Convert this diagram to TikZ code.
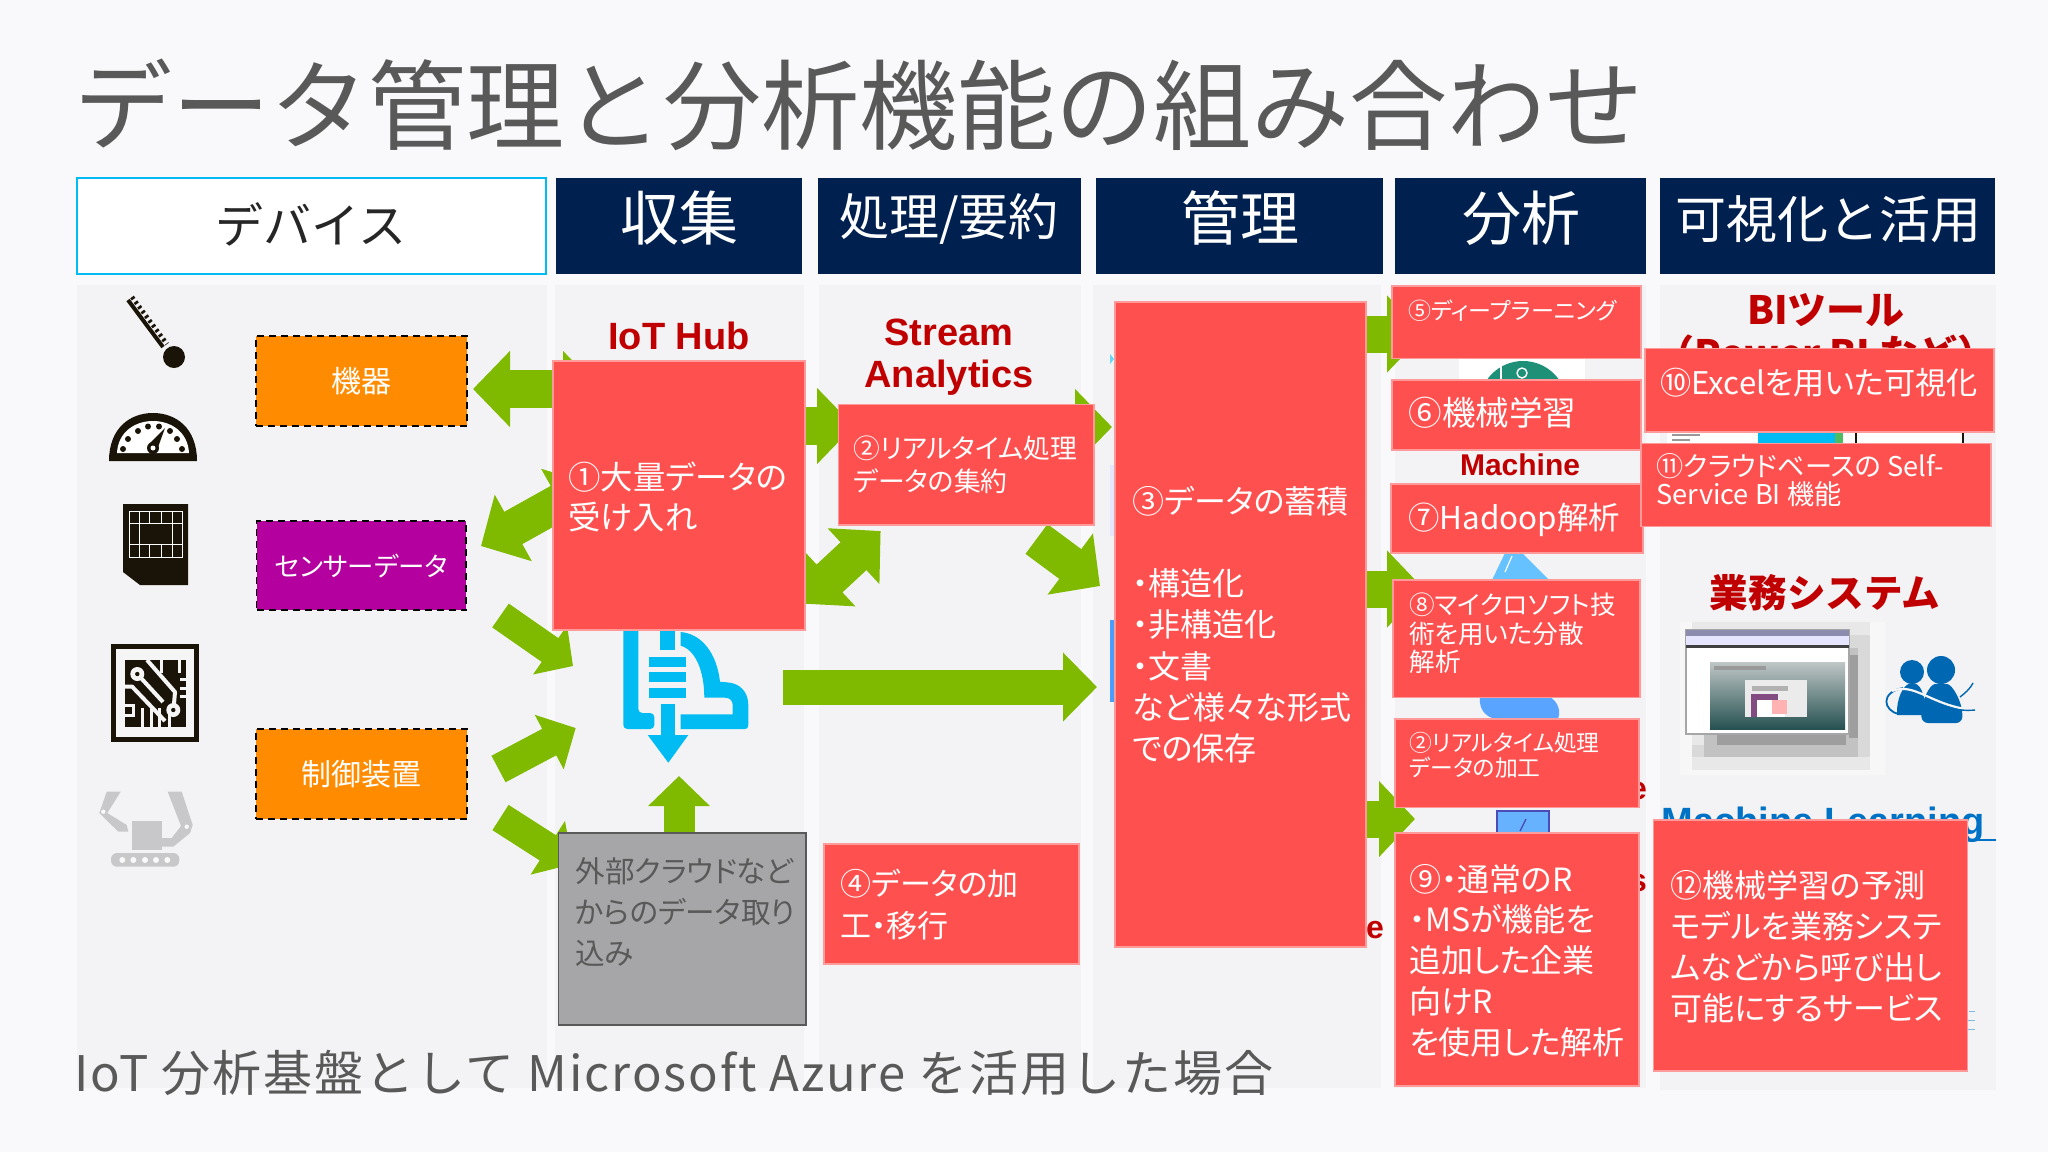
\documentclass[tikz,border=0pt]{standalone}
\usepackage{fontspec}
\usetikzlibrary{arrows.meta}
\setmainfont{Noto Sans CJK JP}
\newfontfamily\pf[RawFeature=+palt]{Noto Sans CJK JP}
\newfontfamily\arialf{Liberation Sans}
\definecolor{pagebg}{HTML}{F9F9FB}
\definecolor{panelc}{HTML}{F3F3F5}
\definecolor{navy}{HTML}{002050}
\definecolor{redb}{HTML}{FF5050}
\definecolor{redl}{HTML}{FF9A9A}
\definecolor{darkred}{HTML}{C00000}
\definecolor{arrowg}{HTML}{7FBA00}
\definecolor{orangeb}{HTML}{FF8C00}
\definecolor{purpb}{HTML}{B4009E}
\definecolor{grayb}{HTML}{A6A6A8}
\definecolor{txtg}{HTML}{595959}
\definecolor{cyanb}{HTML}{00BCF2}
\definecolor{icon}{HTML}{1A1408}
\definecolor{robot}{HTML}{C8C8CA}
\definecolor{bluet}{HTML}{0072C6}
\definecolor{tealc}{HTML}{1F9078}
\newcommand\fs[2]{\fontsize{#1pt}{#2pt}\selectfont}
\newcommand\bx[7]{%
  \pgfmathsetmacro\bw{(#4-#2)*0.5}\pgfmathsetmacro\bh{(#5-#3)*0.5}%
  \node[#6,minimum width=\bw pt,minimum height=\bh pt,inner sep=0pt,outer sep=0pt] (#1) at ({(#2+#4)/2},{(#3+#5)/2}) {#7};}
\tikzset{
  panel/.style={fill=panelc,draw=none},
  hdr/.style={fill=navy,draw=none},
  hdrw/.style={fill=white,draw=cyanb,line width=0.8pt},
  htxt/.style={text=white,inner sep=0pt},
  redbox/.style={fill=redb,draw=redl,line width=0.7pt},
  devbox/.style={fill=#1,draw=black,line width=0.9pt,dash pattern=on 3.5pt off 2.5pt,text=white},
  graybox/.style={fill=grayb,draw=txtg,line width=0.7pt},
  wtxt/.style={text=white,anchor=west,align=left,inner sep=0pt},
  gtxt/.style={text=txtg,anchor=west,align=left,inner sep=0pt},
  rtxt/.style={text=darkred,align=center,inner sep=0pt},
  gone/.style n args={3}{draw=arrowg,line width=#1pt,-{Triangle[length=#3pt,width=#2pt]}},
  gtwo/.style n args={3}{draw=arrowg,line width=#1pt,{Triangle[length=#3pt,width=#2pt]}-{Triangle[length=#3pt,width=#2pt]}},
}
\begin{document}
\begin{tikzpicture}[x=0.5pt,y=-0.5pt]
\useasboundingbox (0,0) rectangle (2048,1152);
\fill[pagebg] (0,0) rectangle (2048,1152);
% panels
\fill[panel] (77,285) rectangle (547,1088);
\fill[panel] (555,285) rectangle (804,1088);
\fill[panel] (819,285) rectangle (1081,1088);
\fill[panel] (1093,285) rectangle (1381,1088);
\fill[panel] (1395,285) rectangle (1646,1088);
\fill[panel] (1660,285) rectangle (1996,1090);
% title, headers
\node[text=txtg,anchor=west,inner sep=0pt,font=\fs{49.05}{50}] (title) at (74,105) {データ管理と分析機能の組み合わせ};
\bx{h1}{77}{178}{546}{274}{hdrw}{}
\bx{h2}{556}{178}{802}{274}{hdr}{}
\bx{h3}{818}{178}{1081}{274}{hdr}{}
\bx{h4}{1096}{178}{1383}{274}{hdr}{}
\bx{h5}{1395}{178}{1646}{274}{hdr}{}
\bx{h6}{1660}{178}{1995}{274}{hdr}{}
\node[inner sep=0pt,text=black!85,font=\fs{24}{26}] (ht1) at (311,224) {デバイス};
\node[htxt,font=\fs{29.5}{31}] (ht2) at (679,218) {収集};
\node[htxt,font=\fs{25}{27}] (ht3) at (949,219) {処理/要約};
\node[htxt,font=\fs{29.5}{31}] (ht4) at (1240,218) {管理};
\node[htxt,font=\fs{29.5}{31}] (ht5) at (1521,218) {分析};
\node[htxt,font=\fs{25.5}{27}] (ht6) at (1828,219) {可視化と活用};
% thermometer
\draw[icon,line width=2pt] (128,300) -- (163,347);
\draw[icon,line width=2.2pt,dash pattern=on 1.3pt off 1.6pt] (132,297) -- (167,344);
\fill[icon] (174,357) circle (11);
% gauge
\fill[icon] (109,461) .. controls (109,428) and (130,413) .. (153,413) .. controls (176,413) and (197,428) .. (197,461) -- cycle;
\fill[white] (117,453) .. controls (118,432) and (135,421) .. (153,421) .. controls (171,421) and (188,432) .. (189,453) -- cycle;
\foreach \px/\py in {123/449,128/439,138/431,148/426.5,159/426.5,170/431,177/439,182/449}
  \fill[icon] (\px,\py) circle (3);
\fill[icon] (149,444) -- (165,428) -- (157,450) -- cycle;
\fill[icon] (153,448) circle (6);
\fill[white] (153,448) circle (2.5);
% chip
\fill[icon] (123,504) -- (188,504) -- (188,585) -- (140,585) -- (123,572) -- cycle;
\draw[white,line width=0.4pt] (129,511) rectangle (182,557)
  (129,523) -- (182,523) (129,544) -- (182,544)
  (139,511) -- (139,557) (172,511) -- (172,557)
  (149,511) -- (149,523) (161,511) -- (161,523)
  (149,544) -- (149,557) (161,544) -- (161,557);
% pcb
\draw[icon,line width=2.5pt,fill=white!96!black] (113.5,646.5) rectangle (196.5,739.5);
\fill[icon] (125,660) rectangle (186,727);
\begin{scope}[white!96!black]
\foreach \px in {160,178} \fill (\px,660) rectangle +(2.5,13);
\foreach \px in {141,150,158,168} \fill (\px,708) rectangle +(2.5,19);
\foreach \py in {678,687} \fill (180,\py) rectangle +(6,3);
\fill (180,695) rectangle +(6,3);
\foreach \py in {704,714} \fill (125,\py) rectangle +(7,3);
\fill (132,704) rectangle +(2.5,13);
\draw[line width=2pt] (137.3,674) -- (163,702);
\draw[line width=2pt,line join=round] (147,660) -- (175,692) -- (173.5,710);
\draw[line width=2pt,line join=round] (125,686.5) -- (132,686.5) -- (165,721);
\fill (137.3,674) circle (7);
\fill (173.3,710) circle (7);
\fill[icon] (137.3,674) circle (2.2);
\fill[icon] (173.3,710) circle (2.2);
\end{scope}
% robot
\begin{scope}[robot]
\fill (132.3,821) rectangle (161.7,850);
\fill (106.7,791.7) -- (120.7,791.7) -- (107.3,813) -- (126.7,825) -- (128.3,831.7) -- (118.3,831.7) -- (99.3,813) -- cycle;
\fill (167.7,791.7) -- (181.7,791.7) -- (192.7,825) -- (190,833) -- (173.3,846.7) -- (160,846.7) -- (160,838) -- (171.7,838) -- (181,826) -- cycle;
\fill[rounded corners=3pt] (111,853) rectangle (179.3,866.7);
\foreach \px in {122.3,133.3,145,156,167.3} \fill[white!90!robot] (\px,860) circle (3);
\fill[white!90!robot] (103.3,811.7) circle (2.2);
\fill[white!90!robot] (186.7,826.7) circle (2.2);
\end{scope}
% cloud icon
\begin{scope}[cyanb]
\fill[rounded corners=2pt] (623.3,622) -- (638.3,622) -- (638.3,713) -- (654.3,713) -- (654.3,729) -- (623.3,729) -- cycle;
\fill (660,625) rectangle (675,650);
\fill (649,656.7) rectangle (685.7,666.7);
\fill (649,672.3) rectangle (685.7,682.3);
\fill (649,688.3) rectangle (685.7,698.3);
\fill (661,704) rectangle (675,736);
\fill (647.7,735) -- (688.3,735) -- (668.3,762.7) -- cycle;
\fill (680.7,632) .. controls (703,634) and (717,655) .. (720,681.7) -- (726.7,682.3) .. controls (740,683) and (748.3,692) .. (748.3,705) -- (748.3,725) .. controls (748.3,728) and (747,729) .. (745,729) -- (680.7,729) -- (680.7,714.3) -- (732.7,714.3) -- (732.7,705) .. controls (732.7,701) and (730,697.7) .. (725,697.7) -- (704.3,697.7) .. controls (704.3,672) and (696,650) .. (680.7,645.7) -- cycle;
\end{scope}
% fragments behind the red boxes
\node[font=\arialf\bfseries\fs{19}{21},rtxt] (hub) at (679,336) {IoT Hub};
\node[font=\arialf\bfseries\fs{19}{21},rtxt] (sa) at (949,357) {Stream\\Analytics};
\node[font=\bfseries\fs{19.5}{21},rtxt] (bi) at (1826,310) {BIツール};
\node[font=\bfseries\fs{19.5}{21},rtxt] (pbi) at (1826,354) {（Power BI など）};
\node[font=\arialf\bfseries\fs{15}{17},rtxt] (mach) at (1520,465) {Machine};
\node[font=\arialf\bfseries\fs{16}{18},rtxt] (e1) at (1375,930) {e};
\node[font=\arialf\bfseries\fs{16}{18},rtxt] (e2) at (1638,791) {e};
\node[font=\arialf\bfseries\fs{16}{18},rtxt] (s1) at (1638,883) {s};
\node[font=\bfseries\fs{19.3}{21},rtxt] (biz) at (1825,593) {業務システム};
\node[font=\arialf\bfseries\fs{19}{21},text=bluet,inner sep=0pt] (ml) at (1823,825) {Machine Learning};
\draw[bluet,line width=1pt] (1662,840) -- (1996,840);
\draw[bluet!50,line width=0.5pt] (1969,1011) -- (1975,1011) (1968,1020) -- (1975,1020) (1968,1029) -- (1975,1029);
% small peeking pictures
\fill[white] (1459,358) rectangle (1585,381);
\begin{scope}
\clip (1459,358) rectangle (1585,381);
\fill[tealc] (1523,405) circle (44);
\draw[white,line width=0.7pt] (1501,358) -- (1501,381);
\draw[white,line width=0.7pt] (1522,373) circle (5);
\end{scope}
\fill[white] (1667,432) rectangle (1964,444);
\fill[cyanb] (1758,432) rectangle (1843,444);
\fill[arrowg!60!cyanb] (1835,432) rectangle (1843,444);
\fill[icon] (1855,432) rectangle (1857,444);
\fill[icon] (1962,432) rectangle (1964,444);
\fill[black!40] (1672,434) rectangle (1700,436);
\fill[black!40] (1672,439) rectangle (1690,441);
\fill[blue!40!cyan!60] (1505,553) -- (1522,553) -- (1549,580) -- (1492,580) -- cycle;
\draw[white,line width=0.6pt] (1505,572) -- (1512,556);
\fill[blue!55!cyan!65] (1480,697) .. controls (1478,712) and (1490,720) .. (1500,719) -- (1558,719) .. controls (1562,708) and (1555,700) .. (1550,697) -- cycle;
\fill[blue!50!cyan!60] (1497,811) rectangle (1549,835);
\draw[blue!60!black!70,line width=0.7pt] (1497,835) -- (1497,811) -- (1549,811) -- (1549,835);
\draw[blue!60!black!70,line width=0.7pt] (1520,831) -- (1526,819);
\fill[cyanb!60] (1110,354) -- (1114,359) -- (1110,364) -- cycle;
\fill[blue!10] (1110,465) rectangle (1115,536);
\fill[cyanb!60!blue!70] (1110,620) rectangle (1115,702);
% screenshot and its pixelated shadow
\fill[black!3] (1680,622) rectangle (1885,775);
\fill[black!9] (1692,622) rectangle (1870,770);
\fill[black!15] (1692,745) rectangle (1870,757);
\fill[black!15] (1849,635) rectangle (1870,745);
\fill[black!24] (1704,734) rectangle (1858,757);
\fill[black!38] (1717,734) rectangle (1846,745);
\fill[black!24] (1849,648) rectangle (1858,745);
\fill[black!38] (1849,655) rectangle (1858,738);
\draw[black!35,fill=white,line width=0.6pt] (1686,630) rectangle (1849,734);
\fill[blue!30!black!45] (1686,630) rectangle (1849,636);
\fill[blue!10!white] (1686,636) rectangle (1849,645);
\fill[black!75] (1686,645) rectangle (1849,648);
\shade[top color=teal!20!black!25,middle color=black!45,bottom color=teal!40!black!85] (1710,662) rectangle (1845,729);
\fill[white!92!black] (1745,680) rectangle (1807,717);
\fill[black!30] (1752,686) rectangle (1788,691);
\fill[violet!60!black!70] (1751,694) rectangle (1778,717);
\fill[white] (1757,700) rectangle (1785,717);
\fill[red!30] (1772,700) rectangle (1787,714);
\fill[black!40] (1714,666) rectangle (1766,670);
% people
\begin{scope}[bluet!90!black]
\fill (1912,672) circle (12);
\fill (1897,715) .. controls (1896,700) and (1903,683) .. (1912,683) .. controls (1920,683) and (1925,692) .. (1926,715) -- cycle;
\fill (1941,670) circle (14);
\fill[rounded corners=3pt] (1922,723) .. controls (1920,702) and (1930,684) .. (1941,684) .. controls (1952,684) and (1963,702) .. (1962,723) -- cycle;
\draw[line width=0.9pt] (1899,714) .. controls (1883,711) and (1880,692) .. (1903,688);
\draw[line width=0.7pt] (1960,697) .. controls (1965,693) and (1970,689) .. (1973,683);
\draw[line width=1.1pt,white!96!black] (1892,691) .. controls (1915,682) and (1930,705) .. (1972,710);
\draw[line width=0.7pt] (1935,703) .. controls (1950,710) and (1965,711) .. (1975,710);
\end{scope}
% arrows
\coordinate (a1a) at (473,389);   \coordinate (a1b) at (600,389);
\coordinate (a2a) at (481,546);   \coordinate (a2b) at (592,484);
\coordinate (a3a) at (500.5,615.5); \coordinate (a3b) at (573,666);
\coordinate (a4a) at (498.5,769); \coordinate (a4b) at (575.7,728);
\coordinate (a5a) at (500.5,817.5); \coordinate (a5b) at (573,864);
\coordinate (a6a) at (780,426);   \coordinate (a6b) at (854,426);
\coordinate (a7a) at (1050,427);  \coordinate (a7b) at (1112,427);
\coordinate (a8a) at (1036.5,539); \coordinate (a8b) at (1100,586);
\coordinate (a9a) at (783.4,687); \coordinate (a9b) at (1097,687);
\coordinate (a10a) at (679,840);  \coordinate (a10b) at (679,776);
\coordinate (a11a) at (1360,334); \coordinate (a11b) at (1424,334);
\coordinate (a12a) at (1360,589); \coordinate (a12b) at (1424,589);
\coordinate (a13a) at (1360,819); \coordinate (a13b) at (1415,819);
\coordinate (a14a) at (802.4,603.6); \coordinate (a14b) at (880.6,531);
\draw[gtwo={19}{37}{18.5}] (a1a) -- (a1b);
\draw[gtwo={18.5}{37}{18.5}] (a2a) -- (a2b);
\draw[gone={14.5}{29}{14}] (a3a) -- (a3b);
\draw[gone={15}{30}{15}] (a4a) -- (a4b);
\draw[gone={15}{31}{15}] (a5a) -- (a5b);
\draw[gone={19}{37}{18.5}] (a6a) -- (a6b);
\draw[gone={19}{37}{18.5}] (a7a) -- (a7b);
\draw[gone={18.5}{37}{18.5}] (a8a) -- (a8b);
\draw[gone={17.5}{33.5}{17}] (a9a) -- (a9b);
\draw[gone={15.5}{30}{15}] (a10a) -- (a10b);
\draw[gone={18.5}{37.5}{18.5}] (a11a) -- (a11b);
\draw[gone={18.5}{37.5}{18.5}] (a12a) -- (a12b);
\draw[gone={18.5}{37}{18}] (a13a) -- (a13b);
\draw[gtwo={19}{37}{18.5}] (a14a) -- (a14b);
% device boxes
\bx{d1}{256}{336}{467}{426}{devbox=orangeb,font=\fs{15}{17}}{機器}
\bx{d2}{256.5}{521}{466}{610}{devbox=purpb,font=\pf\fs{13.2}{14}}{センサーデータ}
\bx{d3}{256}{729}{467}{819}{devbox=orangeb,font=\fs{15}{17}}{制御装置}
% red boxes
\bx{r1}{553}{361}{805}{630}{redbox}{}
\bx{r2}{838.5}{404.5}{1094}{525}{redbox}{}
\bx{r4}{824}{844}{1079}{964}{redbox}{}
\bx{r3}{1115}{302}{1366}{947}{redbox}{}
\bx{r5}{1392}{286}{1641}{358.6}{redbox}{}
\bx{r6}{1392}{380}{1641}{450}{redbox}{}
\bx{r7}{1391}{484}{1643}{553}{redbox}{}
\bx{r8}{1393}{580}{1640}{697.5}{redbox}{}
\bx{r2b}{1395}{719}{1639}{807.5}{redbox}{}
\bx{r9}{1395}{833}{1639}{1086}{redbox}{}
\bx{r10}{1645}{348.6}{1994}{432}{redbox}{}
\bx{r11}{1641}{443.6}{1991}{526.4}{redbox}{}
\bx{r12}{1653.5}{820}{1967.5}{1071}{redbox}{}
\bx{gb}{558.5}{833}{806}{1025}{graybox}{}
% texts
\node[wtxt,font=\pf\fs{16.2}{20}] (t1) at (568,497) {①大量データの\\受け入れ};
\node[wtxt,font=\pf\fs{13.4}{16.5}] (t2) at (853,464.5) {②リアルタイム処理\\データの集約};
\node[wtxt,font=\pf\fs{15.5}{21}] (t4) at (840,905) {④データの加\\工・移行};
\node[wtxt,font=\pf\fs{16}{20}] (t3) at (1132,501) {③データの蓄積};
\node[wtxt,font=\pf\fs{16}{20.6}] (t3b) at (1132,666) {・構造化\\・非構造化\\・文書\\など様々な形式\\での保存};
\node[wtxt,font=\pf\fs{11.5}{12}] (t5) at (1408,311) {⑤ディープラーニング};
\node[wtxt,font=\fs{16.8}{18}] (t6) at (1408,413) {⑥機械学習};
\node[wtxt,font=\fs{15.7}{18}] (t7) at (1408,520) {⑦Hadoop解析};
\node[wtxt,font=\pf\fs{12.8}{14.3}] (t8) at (1409,633.5) {⑧マイクロソフト技\\術を用いた分散\\解析};
\node[wtxt,font=\pf\fs{11.4}{12.5}] (t2b) at (1409,755.5) {②リアルタイム処理\\データの加工};
\node[wtxt,font=\pf\fs{16}{20.4}] (t9) at (1409,960.5) {⑨・通常のR\\・MSが機能を\\追加した企業\\向けR\\を使用した解析};
\node[wtxt,font=\pf\fs{15.6}{17}] (t10) at (1660,383) {⑩Excelを用いた可視化};
\node[wtxt,font=\pf\fs{13.6}{12.5}] (t11) at (1656,480) {⑪クラウドベースの Self-\\Service BI 機能};
\node[wtxt,font=\pf\fs{16}{20.5}] (t12) at (1670,947) {⑫機械学習の予測\\モデルを業務システ\\ムなどから呼び出し\\可能にするサービス};
\node[gtxt,font=\pf\fs{14.8}{20.5}] (tg) at (575,912) {外部クラウドなど\\からのデータ取り\\込み};
\node[gtxt,font=\fs{24.5}{26}\addfontfeatures{LetterSpace=4}] (foot) at (74,1073) {IoT 分析基盤として Microsoft Azure を活用した場合};
\end{tikzpicture}
\end{document}
